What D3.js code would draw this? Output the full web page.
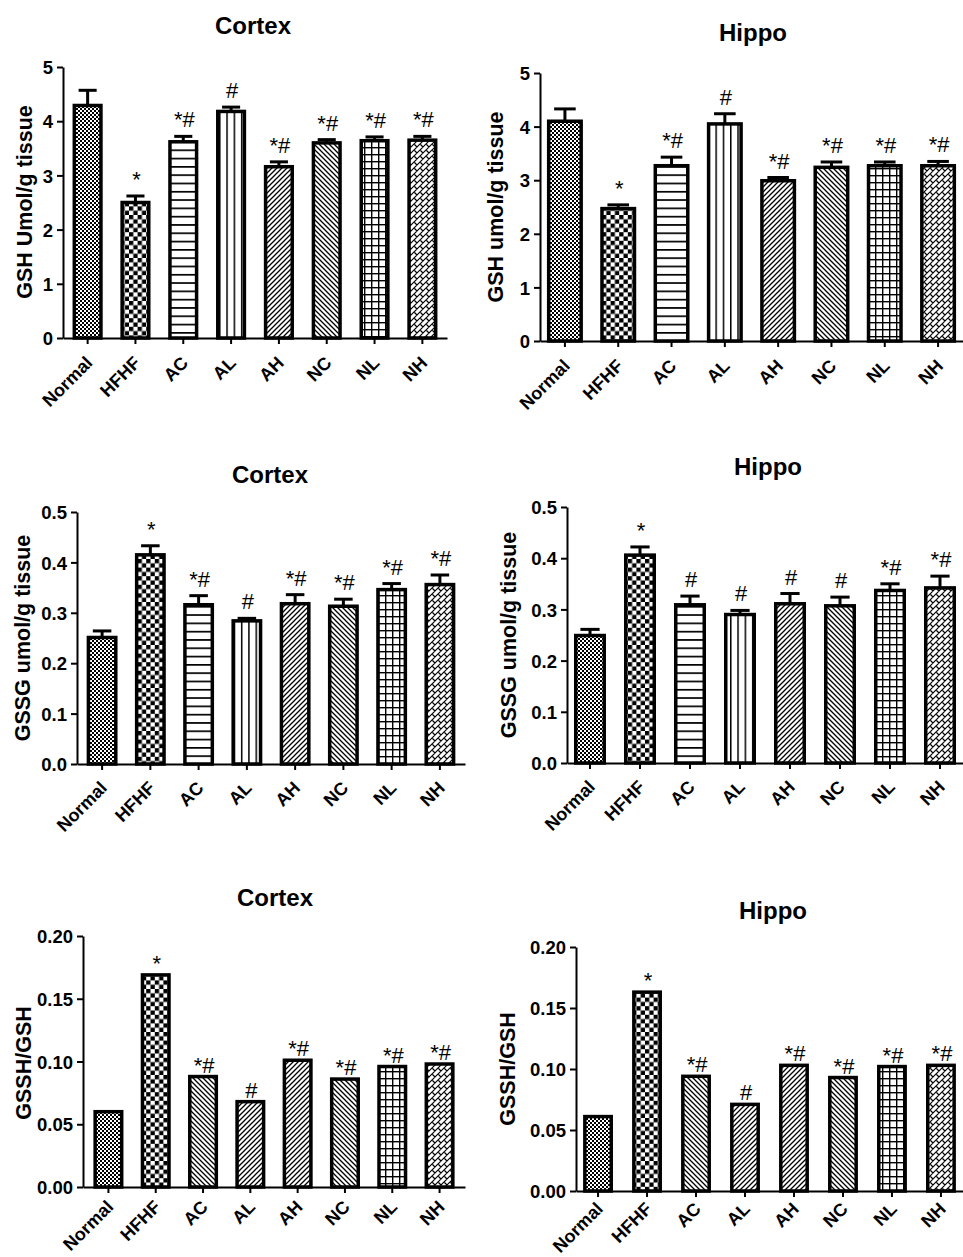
<!DOCTYPE html>
<html>
<head>
<meta charset="utf-8">
<title></title>
<script src="https://cdn.jsdelivr.net/npm/d3@7"></script>
<style>
body { margin: 0; background: #fff; }
svg text { font-family: "Liberation Sans", Arial, sans-serif; fill: #000; }
</style>
</head>
<body>
<script>
const categories = ['Normal', 'HFHF', 'AC', 'AL', 'AH', 'NC', 'NL', 'NH']

// GSH (umol/g tissue)
const gshCortex = [4.29, 2.50, 3.62, 4.18, 3.16, 3.60, 3.64, 3.65]
const gshCortexErr = [0.28, 0.12, 0.10, 0.08, 0.09, 0.06, 0.07, 0.07]
const gshHippo = [4.10, 2.47, 3.27, 4.05, 2.99, 3.24, 3.27, 3.27]
const gshHippoErr = [0.23, 0.07, 0.16, 0.19, 0.06, 0.10, 0.07, 0.08]

// GSSG (umol/g tissue)
const gssgCortex = [0.251, 0.415, 0.316, 0.284, 0.318, 0.313, 0.346, 0.356]
const gssgCortexErr = [0.013, 0.018, 0.018, 0.005, 0.018, 0.014, 0.012, 0.019]
const gssgHippo = [0.249, 0.406, 0.309, 0.290, 0.311, 0.307, 0.337, 0.342]
const gssgHippoErr = [0.012, 0.016, 0.017, 0.008, 0.020, 0.017, 0.013, 0.023]

// GSSH/GSH ratio
const ratioCortex = [0.060, 0.169, 0.088, 0.068, 0.101, 0.086, 0.096, 0.098]
const ratioHippo = [0.061, 0.163, 0.094, 0.071, 0.103, 0.093, 0.102, 0.103]

// significance marks above the bars
const sigMain = ['', '*', '*#', '#', '*#', '*#', '*#', '*#']
const sigGssgHippo = ['', '*', '#', '#', '#', '#', '*#', '*#']

// tick labels
const gshTicks = [0, 1, 2, 3, 4, 5]
const gssgTicks = [0, 0.1, 0.2, 0.3, 0.4, 0.5]
const ratioTicks = [0, 0.05, 0.10, 0.15, 0.20]

const width = 963
const height = 1257
const sw = 3.5    // bar outline

const svg = d3.select('body').append('svg')
    .attr('width', width)
    .attr('height', height)
const defs = svg.append('defs')

// fill patterns
function pat(id, w, h, draw) {
  const p = defs.append('pattern')
      .attr('id', id)
      .attr('patternUnits', 'userSpaceOnUse')
      .attr('width', w)
      .attr('height', h)
  p.append('rect').attr('width', w).attr('height', h).attr('fill', '#fff')
  draw(p)
}
pat('fine', 4, 4, p => {
  p.append('rect').attr('width', 2).attr('height', 2)
  p.append('rect').attr('x', 2).attr('y', 2).attr('width', 2).attr('height', 2)
})
pat('checker', 8.6, 8.6, p => {
  p.append('rect').attr('width', 4.3).attr('height', 4.3)
  p.append('rect').attr('x', 4.3).attr('y', 4.3).attr('width', 4.3).attr('height', 4.3)
})
pat('hlines', 8, 8.3, p => p.append('rect').attr('width', 8).attr('height', 1.7))
pat('vlines', 7.3, 8, p => p.append('rect').attr('width', 1.5).attr('height', 8))
pat('fwd', 5, 5, p => p.append('path')
    .attr('d', 'M-1,1L1,-1M0,5L5,0M4,6L6,4')
    .attr('stroke', '#000').attr('stroke-width', 1.3))
pat('back', 5, 5, p => p.append('path')
    .attr('d', 'M-1,4L1,6M0,0L5,5M4,-1L6,1')
    .attr('stroke', '#000').attr('stroke-width', 1.3))
pat('grid', 7, 7, p => {
  p.append('rect').attr('width', 1.4).attr('height', 7)
  p.append('rect').attr('width', 7).attr('height', 1.4)
})
pat('weave', 6, 6, p => p.append('path')
    .attr('d', 'M-1,1L1,-1M0,6L6,0M5,7L7,5M0.5,0.5L3,3')
    .attr('stroke', '#000').attr('stroke-width', 1.2))

const fillsTop = ['fine', 'checker', 'hlines', 'vlines', 'fwd', 'back', 'grid', 'weave']
const fillsBottom = ['fine', 'checker', 'back', 'fwd', 'fwd', 'back', 'grid', 'weave']

const panels = [
  { title: 'Cortex', ylab: 'GSH Umol/g tissue', values: gshCortex, err: gshCortexErr, sig: sigMain,
    ticks: gshTicks, fmt: d3.format('d'), fills: fillsTop,
    left: 63, right: 447, top: 67, bottom: 338, pi: 0.37, po: 0.2,
    titleX: 253, titleY: 34, labX: 32, labY: 202, lblDy: 26 },
  { title: 'Hippo', ylab: 'GSH umol/g tissue', values: gshHippo, err: gshHippoErr, sig: sigMain,
    ticks: gshTicks, fmt: d3.format('d'), fills: fillsTop,
    left: 540, right: 963, top: 73, bottom: 341, pi: 0.325, po: 0.13,
    titleX: 753, titleY: 41, labX: 503, labY: 207, lblDy: 26 },
  { title: 'Cortex', ylab: 'GSSG umol/g tissue', values: gssgCortex, err: gssgCortexErr, sig: sigMain,
    ticks: gssgTicks, fmt: d3.format('.1f'), fills: fillsTop,
    left: 77, right: 465, top: 512, bottom: 764, pi: 0.36, po: 0.2,
    titleX: 270, titleY: 483, labX: 30, labY: 638, lblDy: 25 },
  { title: 'Hippo', ylab: 'GSSG umol/g tissue', values: gssgHippo, err: gssgHippoErr, sig: sigGssgHippo,
    ticks: gssgTicks, fmt: d3.format('.1f'), fills: fillsTop,
    left: 567, right: 963, top: 507, bottom: 763, pi: 0.36, po: 0.14,
    titleX: 768, titleY: 475, labX: 516, labY: 635, lblDy: 25 },
  { title: 'Cortex', ylab: 'GSSH/GSH', values: ratioCortex, err: null, sig: sigMain,
    ticks: ratioTicks, fmt: d3.format('.2f'), fills: fillsBottom,
    left: 83, right: 465, top: 936, bottom: 1187, pi: 0.365, po: 0.22,
    titleX: 275, titleY: 906, labX: 31, labY: 1063, lblDy: 21 },
  { title: 'Hippo', ylab: 'GSSH/GSH', values: ratioHippo, err: null, sig: sigMain,
    ticks: ratioTicks, fmt: d3.format('.2f'), fills: fillsBottom,
    left: 576, right: 963, top: 947, bottom: 1191, pi: 0.39, po: 0.145,
    titleX: 773, titleY: 919, labX: 515, labY: 1069, lblDy: 19 }
]

panels.forEach(p => {
  const g = svg.append('g')
  const x = d3.scaleBand()
      .domain(categories)
      .range([p.left, p.right])
      .paddingInner(p.pi)
      .paddingOuter(p.po)
  const y = d3.scaleLinear()
      .domain([0, d3.max(p.ticks)])
      .range([p.bottom, p.top])
  const bw = x.bandwidth()
  const cx = i => x(categories[i]) + bw / 2

  // bars
  g.selectAll('rect.bar')
    .data(p.values)
    .join('rect')
      .attr('class', 'bar')
      .attr('x', (d, i) => x(categories[i]) + sw / 2)
      .attr('y', d => y(d))
      .attr('width', bw - sw)
      .attr('height', d => p.bottom - y(d))
      .attr('fill', (d, i) => `url(#${p.fills[i]})`)
      .attr('stroke', '#000')
      .attr('stroke-width', sw)

  // error bars (upper half only)
  if (p.err) {
    const capW = bw * 0.6
    p.values.forEach((d, i) => {
      const yt = y(d + p.err[i])
      g.append('line')
        .attr('x1', cx(i)).attr('x2', cx(i))
        .attr('y1', y(d)).attr('y2', yt)
        .attr('stroke', '#000').attr('stroke-width', 3)
      g.append('line')
        .attr('x1', cx(i) - capW / 2).attr('x2', cx(i) + capW / 2)
        .attr('y1', yt).attr('y2', yt)
        .attr('stroke', '#000').attr('stroke-width', 3)
    })
  }

  // significance marks
  g.selectAll('text.sig')
    .data(p.values)
    .join('text')
      .attr('class', 'sig')
      .attr('text-anchor', 'middle')
      .attr('font-size', 22)
      .attr('transform', (d, i) => {
        const ty = p.err ? y(d + p.err[i]) - 9 : y(d) - 4
        return `translate(${cx(i) + 1},${ty})`
      })
      .text((d, i) => p.sig[i])

  // y axis
  const yg = g.append('g')
      .attr('transform', `translate(${p.left},0)`)
      .call(d3.axisLeft(y).tickValues(p.ticks).tickFormat(p.fmt).tickSize(6).tickSizeOuter(0))
      .attr('font-size', null)
      .attr('font-family', null)
  yg.select('.domain').attr('stroke-width', 2)
  yg.selectAll('.tick line').attr('stroke-width', 2)
  yg.selectAll('.tick text')
      .attr('x', -10)
      .attr('dy', '0.36em')
      .attr('font-size', 18.5)
      .attr('font-weight', 'bold')

  // x axis
  const xg = g.append('g')
      .attr('transform', `translate(0,${p.bottom})`)
      .call(d3.axisBottom(x).tickSize(6).tickSizeOuter(0))
      .attr('font-size', null)
      .attr('font-family', null)
  xg.select('.domain').attr('stroke-width', 2)
  xg.selectAll('.tick line').attr('stroke-width', 2)
  xg.selectAll('.tick text')
      .attr('x', 0)
      .attr('y', 0)
      .attr('dy', 0)
      .attr('text-anchor', 'end')
      .attr('font-size', 18)
      .attr('font-weight', 'bold')
      .attr('transform', `translate(6,${p.lblDy}) rotate(-45)`)

  // title
  g.append('text')
      .attr('text-anchor', 'middle')
      .attr('font-size', 24)
      .attr('font-weight', 'bold')
      .attr('transform', `translate(${p.titleX},${p.titleY})`)
      .text(p.title)

  // y label
  g.append('text')
      .attr('text-anchor', 'middle')
      .attr('font-size', 21.5)
      .attr('font-weight', 'bold')
      .attr('transform', `translate(${p.labX},${p.labY}) rotate(-90)`)
      .text(p.ylab)
})
</script>
</body>
</html>
